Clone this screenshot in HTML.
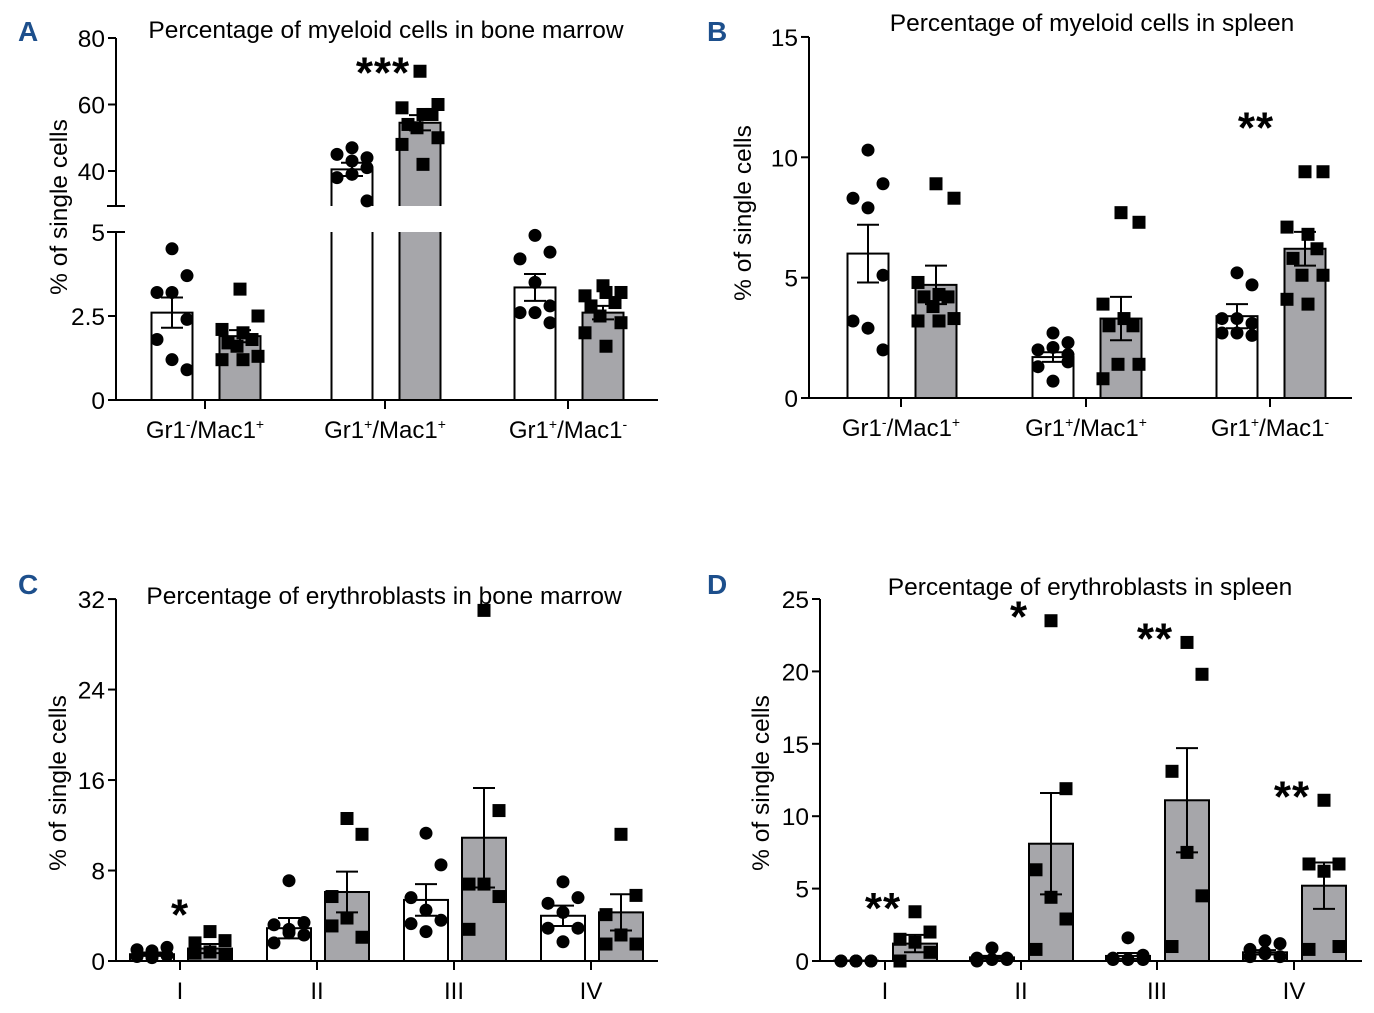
<!DOCTYPE html>
<html><head><meta charset="utf-8"><style>
html,body{margin:0;padding:0;background:#fff;}
svg{display:block;font-family:"Liberation Sans",Arial,sans-serif;}
</style></head><body>
<svg id="fig" width="1374" height="1013" viewBox="0 0 1374 1013" xmlns="http://www.w3.org/2000/svg">
<text x="18" y="41" font-size="28" font-weight="bold" fill="#1d4f8c">A</text>
<text x="707" y="41" font-size="28" font-weight="bold" fill="#1d4f8c">B</text>
<text x="18" y="594" font-size="28" font-weight="bold" fill="#1d4f8c">C</text>
<text x="707" y="594" font-size="28" font-weight="bold" fill="#1d4f8c">D</text>
<text x="386" y="38" font-size="24.5" text-anchor="middle">Percentage of myeloid cells in bone marrow</text>
<text x="1092" y="31" font-size="24.5" text-anchor="middle">Percentage of myeloid cells in spleen</text>
<text x="384" y="604" font-size="24.5" text-anchor="middle">Percentage of erythroblasts in bone marrow</text>
<text x="1090" y="595" font-size="24.5" text-anchor="middle">Percentage of erythroblasts in spleen</text>
<text transform="translate(67,207) rotate(-90)" font-size="24.5" text-anchor="middle">% of single cells</text>
<text transform="translate(751,213) rotate(-90)" font-size="24.5" text-anchor="middle">% of single cells</text>
<text transform="translate(66,783) rotate(-90)" font-size="24.5" text-anchor="middle">% of single cells</text>
<text transform="translate(769,783) rotate(-90)" font-size="24.5" text-anchor="middle">% of single cells</text>
</svg>
<script>
// ---------- data ----------
var catsA = ["Gr1-/Mac1+","Gr1+/Mac1+","Gr1+/Mac1-"];
var ticksA = [0,2.5,5,40,60,80];
var ticksAlabels = ["0","2.5","5","40","60","80"];
var meanWA = [2.6,40.5,3.35];
var semWA = [0.45,2.0,0.4];
var meanGA = [1.9,54.5,2.6];
var semGA = [0.18,2.3,0.2];
var ptsWA = [[4.5,3.7,3.2,3.2,2.4,1.8,1.2,0.9],[47,44,45,43,41,38,39,31],[4.9,4.4,4.2,3.5,2.8,2.6,2.6,2.3]];
var ptsGA = [[3.3,2.5,2.1,2.0,1.8,1.7,1.6,1.3,1.2,1.2],[70,60,59,57,57,54,53,50,48,42],[3.4,3.2,3.1,3.2,2.9,2.8,2.5,2.3,2.0,1.6]];

var catsB = ["Gr1-/Mac1+","Gr1+/Mac1+","Gr1+/Mac1-"];
var ticksB = [0,5,10,15];
var meanWB = [6.0,1.7,3.4];
var semWB = [1.2,0.2,0.5];
var meanGB = [4.7,3.3,6.2];
var semGB = [0.8,0.9,0.7];
var ptsWB = [[10.3,8.9,8.3,7.9,5.1,3.2,2.9,2.0],[2.7,2.3,2.0,2.1,1.8,1.3,0.7,1.5],[5.2,4.7,3.3,3.3,3.1,2.7,2.7,2.6]];
var ptsGB = [[8.9,8.3,4.8,4.3,4.2,4.2,3.8,3.3,3.2,3.2],[7.7,7.3,3.9,3.3,3.0,3.0,1.4,1.4,0.8],[9.4,9.4,7.1,6.8,6.2,5.8,5.1,5.1,4.1,3.9]];

var catsC = ["I","II","III","IV"];
var ticksC = [0,8,16,24,32];
var meanWC = [0.6,2.9,5.4,4.0];
var semWC = [0.15,0.9,1.4,0.9];
var meanGC = [1.1,6.1,10.9,4.3];
var semGC = [0.4,1.8,4.4,1.6];
var ptsWC = [[0.5,1.2,1.0,0.9,0.5,0.4,0.3],[7.1,3.4,3.2,2.8,2.3,1.6,2.5],[11.3,8.5,5.6,4.5,3.6,3.3,2.6],[7.0,5.6,5.1,4.3,2.9,2.9,1.7]];
var ptsGC = [[2.6,1.8,1.6,0.8,0.6,0.7],[12.6,11.2,5.7,3.8,2.1,3.1],[31,13.3,6.8,6.8,5.7,2.8],[11.2,5.8,4.1,2.3,1.5,1.5]];

var catsD = ["I","II","III","IV"];
var ticksD = [0,5,10,15,20,25];
var meanWD = [0.02,0.25,0.35,0.6];
var semWD = [0.01,0.1,0.2,0.15];
var meanGD = [1.2,8.1,11.1,5.2];
var semGD = [0.6,3.5,3.6,1.6];
var ptsWD = [[0,0,0,0,0,0,0],[0.9,0.2,0.2,0.1,0.1,0],[1.6,0.4,0.2,0.1,0.1,0.1],[1.4,1.2,0.8,0.6,0.3,0.3,0.5]];
var ptsGD = [[3.4,2.0,1.5,1.3,0.6,0],[23.5,11.9,6.3,4.4,2.9,0.8],[22,19.8,13.1,7.5,4.5,1.0],[11.1,6.7,6.7,6.2,1.0,0.8]];

var starsA = [["",0],["***",1],["",2]];
var starsB = [["",0],["",1],["**",2]];
var starsC = [["*",0],["",1],["",2],["",3]];
var starsD = [["**",0],["*",1],["**",2],["**",3]];

// ---------- drawing ----------
var svg = document.getElementById('fig');
var NS = "http://www.w3.org/2000/svg";
function mk(tag, attrs, parent){
  var e = document.createElementNS(NS, tag);
  for (var k in attrs) e.setAttribute(k, attrs[k]);
  (parent||svg).appendChild(e);
  return e;
}
var GREY = "#a6a6aa";

function labelWithSup(g, x, y, lab){
  var t = mk('text',{x:x,y:y,'font-size':24,'text-anchor':'middle'},g);
  var m = lab.match(/^(Gr1)([+-])(\/Mac1)([+-])$/);
  if(!m){ t.textContent = lab; return t; }
  var parts = [[m[1],0],[m[2],1],[m[3],0],[m[4],1]];
  parts.forEach(function(p,idx){
    var s = mk('tspan',{},t);
    if(p[1]){ s.setAttribute('font-size','14'); s.setAttribute('dy', '-9'); }
    else { s.setAttribute('dy', idx==0?'0':'9'); }
    s.textContent = p[0];
  });
  return t;
}

function panel(cfg){
  var g = mk('g',{});
  
  
  var y = cfg.y, ax = cfg.axisX;
  cfg.cats.forEach(function(c,i){
    var cx = cfg.catX[i];
    [[cfg.meanW,cfg.semW,cfg.ptsW,cfg.offW,'#fff','circle','white'],[cfg.meanG,cfg.semG,cfg.ptsG,cfg.offG,GREY,'square','grey']].forEach(function(s){
      var bx = cx + s[3], mean = s[0][i], sem = s[1][i], pts = s[2][i];
      var hw = cfg.barW/2;
      var top = y(mean);
      if (cfg.brk && mean > cfg.brk.lowMax){
        var bl = mk('rect',{x:bx-hw,y:cfg.brk.lowTopY,width:cfg.barW,height:cfg.zeroY-cfg.brk.lowTopY,fill:s[4],stroke:'none'},g);
        
        
        var bu = mk('rect',{x:bx-hw,y:top,width:cfg.barW,height:cfg.brk.upBotY-top,fill:s[4],stroke:'none'},g);
        
        
        mk('path',{d:'M'+(bx-hw)+','+cfg.zeroY+'V'+cfg.brk.lowTopY+'M'+(bx+hw)+','+cfg.zeroY+'V'+cfg.brk.lowTopY+'M'+(bx-hw)+','+cfg.brk.upBotY+'V'+top+'H'+(bx+hw)+'V'+cfg.brk.upBotY,fill:'none',stroke:'#000','stroke-width':2},g);
      } else {
        var b = mk('rect',{x:bx-hw,y:top,width:cfg.barW,height:Math.max(0,cfg.zeroY-top),fill:s[4],stroke:'#000','stroke-width':2},g);
        
        
      }
      var n = pts.length;
      pts.forEach(function(v,k){
        var off = (((k+1)%3)-1)*15 + (k==0?0:((k%2)?3:-3)*(n>8?1:0));
        var px = bx + off, py = y(v);
        var p;
        if (s[5]=='circle') p = mk('circle',{cx:px,cy:py,r:6.5,fill:'#000'},g);
        else p = mk('rect',{x:px-6.5,y:py-6.5,width:13,height:13,fill:'#000'},g);
        
        
      });
      var e1 = y(mean+sem), e2 = y(Math.max(0,mean-sem));
      var eb = mk('path',{d:'M'+bx+','+e1+'V'+e2+'M'+(bx-11)+','+e1+'H'+(bx+11)+'M'+(bx-11)+','+e2+'H'+(bx+11),stroke:'#000','stroke-width':2,fill:'none'},g);
      
      
    });
    mk('line',{x1:cx,y1:cfg.zeroY,x2:cx,y2:cfg.zeroY+9,stroke:'#000','stroke-width':2},g);
    var lt = labelWithSup(g, cx, cfg.zeroY+38, c);
    
    
  });
  if (cfg.brk){
    mk('path',{d:'M'+ax+','+cfg.zeroY+'V'+cfg.brk.lowTopY+'M'+ax+','+cfg.brk.upBotY+'V'+y(cfg.ticks[cfg.ticks.length-1])+'M'+(ax-9)+','+cfg.brk.upBotY+'H'+(ax+9)+'M'+(ax-9)+','+cfg.brk.lowTopY+'H'+(ax+9),stroke:'#000','stroke-width':2,fill:'none'},g);
  } else {
    mk('line',{x1:ax,y1:cfg.zeroY+1,x2:ax,y2:y(cfg.ticks[cfg.ticks.length-1]),stroke:'#000','stroke-width':2},g);
  }
  var xa = mk('line',{x1:ax-1,y1:cfg.zeroY,x2:cfg.axisEnd,y2:cfg.zeroY,stroke:'#000','stroke-width':2},g);
  
  
  cfg.ticks.forEach(function(t,k){
    var ty = y(t);
    mk('line',{x1:ax-8,y1:ty,x2:ax,y2:ty,stroke:'#000','stroke-width':2},g);
    var tl = mk('text',{x:ax-11,y:ty+9,'font-size':24.5,'text-anchor':'end'},g);
    tl.textContent = cfg.tickLabels ? cfg.tickLabels[k] : String(t);
    
    
  });
  cfg.stars.forEach(function(s){
    if(!s[0]) return;
    var i = s[1];
    var top = Math.max.apply(null, cfg.ptsG[i]);
    var st = mk('text',{x:cfg.catX[i]+cfg.starDx, y:y(top)+cfg.starDy,'font-size':44,'font-weight':'bold','text-anchor':'middle','letter-spacing':'1'},g);
    st.textContent = s[0];
    
    
  });
}

var yA = function(v){ return v <= 5 ? 400 - v*33.6 : 171 - (v-40)*3.325; };
panel({name:'chart-a',cats:catsA,catX:[205,385,568],offW:-33,offG:35,barW:41,
  meanW:meanWA,semW:semWA,meanG:meanGA,semG:semGA,ptsW:ptsWA,ptsG:ptsGA,
  y:yA,zeroY:400,axisX:116,axisEnd:658,ticks:ticksA,tickLabels:ticksAlabels,
  brk:{lowMax:5,lowTopY:232,upBotY:206},stars:starsA,starDx:-2,starDy:16});
var yB = function(v){ return 398 - v*24.07; };
panel({name:'chart-b',cats:catsB,catX:[901,1086,1270],offW:-33,offG:35,barW:41,
  meanW:meanWB,semW:semWB,meanG:meanGB,semG:semGB,ptsW:ptsWB,ptsG:ptsGB,
  y:yB,zeroY:398,axisX:809,axisEnd:1352,ticks:ticksB,stars:starsB,starDx:-14,starDy:-29});
var yC = function(v){ return 961 - v*11.31; };
panel({name:'chart-c',cats:catsC,catX:[180,317,454,591],offW:-28,offG:30,barW:44,
  meanW:meanWC,semW:semWC,meanG:meanGC,semG:semGC,ptsW:ptsWC,ptsG:ptsGC,
  y:yC,zeroY:961,axisX:116,axisEnd:658,ticks:ticksC,stars:starsC,starDx:0,starDy:-2});
var yD = function(v){ return 961 - v*14.48; };
panel({name:'chart-d',cats:catsD,catX:[885,1021,1157,1294],offW:-29,offG:30,barW:44,
  meanW:meanWD,semW:semWD,meanG:meanGD,semG:semGD,ptsW:ptsWD,ptsG:ptsGD,
  y:yD,zeroY:961,axisX:820,axisEnd:1362,ticks:ticksD,stars:starsD,starDx:-2,starDy:11});
</script>
</body></html>
